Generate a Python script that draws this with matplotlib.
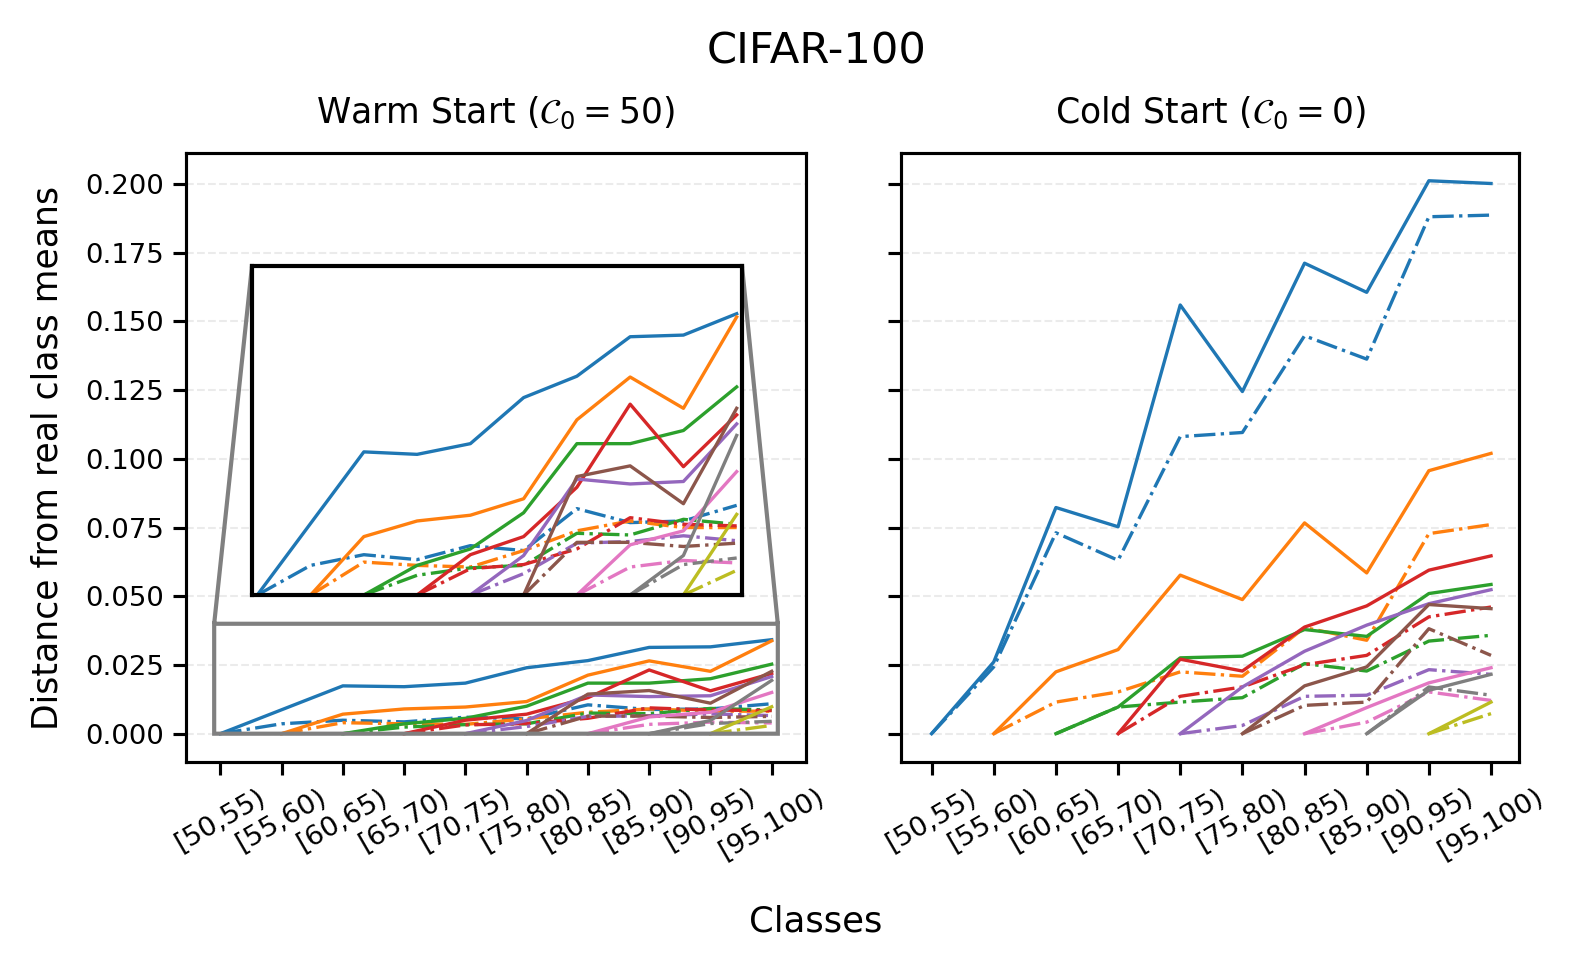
import numpy as np
import matplotlib
matplotlib.use("Agg")
import matplotlib.pyplot as plt

categories = ["[50,55)", "[55,60)", "[60,65)", "[65,70)", "[70,75)",
              "[75,80)", "[80,85)", "[85,90)", "[90,95)", "[95,100)"]

# Warm start: each group starts at index = group id (solid / dash-dot)
warm_solid = [
    [0, 0.0087, 0.0174, 0.0171, 0.0184, 0.0240, 0.0266, 0.0314, 0.0316, 0.0342],
    [0, 0.0071, 0.0090, 0.0097, 0.0117, 0.0213, 0.0265, 0.0227, 0.0338],
    [0, 0.0036, 0.0056, 0.0100, 0.0184, 0.0184, 0.0200, 0.0253],
    [0, 0.0049, 0.0071, 0.0131, 0.0232, 0.0156, 0.0219],
    [0, 0.0048, 0.0141, 0.0135, 0.0138, 0.0208],
    [0, 0.0144, 0.0157, 0.0111, 0.0227],
    [0, 0.0061, 0.0078, 0.0150],
    [0, 0.0048, 0.0194],
    [0, 0.0098],
]
warm_dashdot = [
    [0, 0.0036, 0.0049, 0.0043, 0.0060, 0.0054, 0.0105, 0.0088, 0.0090, 0.0109],
    [0, 0.0040, 0.0036, 0.0034, 0.0054, 0.0078, 0.0090, 0.0082, 0.0082],
    [0, 0.0024, 0.0033, 0.0036, 0.0075, 0.0073, 0.0092, 0.0086],
    [0, 0.0032, 0.0037, 0.0056, 0.0094, 0.0086, 0.0084],
    [0, 0.0026, 0.0063, 0.0065, 0.0072, 0.0066],
    [0, 0.0064, 0.0064, 0.0059, 0.0063],
    [0, 0.0034, 0.0042, 0.0039],
    [0, 0.0037, 0.0045],
    [0, 0.0030],
]
cold_solid = [
    [0, 0.0261, 0.0823, 0.0753, 0.1560, 0.1245, 0.1712, 0.1606, 0.2012, 0.2002],
    [0, 0.0225, 0.0306, 0.0577, 0.0488, 0.0767, 0.0585, 0.0957, 0.1020],
    [0, 0.0097, 0.0276, 0.0282, 0.0379, 0.0354, 0.0510, 0.0543],
    [0, 0.0271, 0.0228, 0.0388, 0.0465, 0.0595, 0.0647],
    [0, 0.0170, 0.0300, 0.0395, 0.0473, 0.0524],
    [0, 0.0174, 0.0243, 0.0470, 0.0455],
    [0, 0.0095, 0.0185, 0.0240],
    [0, 0.0158, 0.0216],
    [0, 0.0115],
]
cold_dashdot = [
    [0, 0.0243, 0.0731, 0.0631, 0.1081, 0.1096, 0.1448, 0.1363, 0.1881, 0.1887],
    [0, 0.0115, 0.0152, 0.0225, 0.0209, 0.0386, 0.0340, 0.0728, 0.0761],
    [0, 0.0097, 0.0115, 0.0131, 0.0255, 0.0228, 0.0337, 0.0358],
    [0, 0.0136, 0.0170, 0.0251, 0.0285, 0.0425, 0.0461],
    [0, 0.0030, 0.0136, 0.0140, 0.0233, 0.0216],
    [0, 0.0103, 0.0115, 0.0382, 0.0285],
    [0, 0.0042, 0.0152, 0.0121],
    [0, 0.0170, 0.0140],
    [0, 0.0073],
]
colors = plt.rcParams['axes.prop_cycle'].by_key()['color']

W, H, DPI = 1577, 971, 300
fig = plt.figure(figsize=(W / DPI, H / DPI), dpi=DPI)

def px_axes(x0, y0, x1, y1):
    return [x0 / W, 1 - y1 / H, (x1 - x0) / W, (y1 - y0) / H]

AX_T, AX_B = 153, 762
ax1 = fig.add_axes(px_axes(186, AX_T, 806, AX_B))
ax2 = fig.add_axes(px_axes(901.5, AX_T, 1519, AX_B), sharey=ax1)

LW = 0.8
SPINE = 0.75

def draw(ax, solid, dashdot):
    for g in range(len(solid)):
        xs = np.arange(g, g + len(solid[g]))
        ax.plot(xs, solid[g], color=colors[g % 10], lw=LW, ls='-')
        xd = np.arange(g, g + len(dashdot[g]))
        ax.plot(xd, dashdot[g], color=colors[g % 10], lw=LW, ls='-.')

draw(ax1, warm_solid, warm_dashdot)
draw(ax2, cold_solid, cold_dashdot)

yticks = np.arange(0, 0.2001, 0.025)
for ax in (ax1, ax2):
    ax.set_xticks(range(len(categories)))
    ax.set_xticklabels(categories, rotation=30, ha='center', fontsize=6.6)
    ax.set_yticks(yticks)
    ax.tick_params(axis='both', labelsize=6.6, width=SPINE, length=3.2, pad=2)
    ax.yaxis.grid(True, ls='--', lw=0.5, color='#e6e6e6', alpha=0.8)
    ax.set_axisbelow(True)
    for s in ax.spines.values():
        s.set_linewidth(SPINE)

ax1.yaxis.set_major_formatter(matplotlib.ticker.FormatStrFormatter('%.3f'))
plt.setp(ax2.get_yticklabels(), visible=False)
ax1.set_xlim(-0.56, 9.56)
ax2.set_xlim(-0.484, 9.45)
ax1.set_ylim(-0.0103, 0.2113)

ax1.set_title(r"Warm Start ($\mathcal{C}_0 = 50$)", fontsize=8.3, pad=7.3)
ax2.set_title(r"Cold Start ($\mathcal{C}_0 = 0$)", fontsize=8.3, pad=7.3)
ax1.set_ylabel("Distance from real class means", fontsize=8.3, labelpad=5)
fig.text(0.5175, 1 - 921 / H, "Classes", ha='center', va='center', fontsize=8.5)
fig.text(0.5175, 1 - 51 / H, "CIFAR-100", ha='center', va='center', fontsize=10.4)

# inset (pixel box 252..742 x, 266..595 y)
ax_w, ax_h = 806 - 186, AX_B - AX_T
axins = ax1.inset_axes([(252 - 186) / ax_w, (AX_B - 595) / ax_h,
                        (742 - 252) / ax_w, (595 - 266) / ax_h])
draw(axins, warm_solid, warm_dashdot)
axins.set_xlim(-0.1, 9.1)
axins.set_ylim(0, 0.04)
axins.set_xticks([])
axins.set_yticks([])
for s in axins.spines.values():
    s.set_linewidth(1.0)
ax1.indicate_inset_zoom(axins, edgecolor='0.5', alpha=1.0, linewidth=1.0)

fig.savefig("out.png", dpi=DPI)
